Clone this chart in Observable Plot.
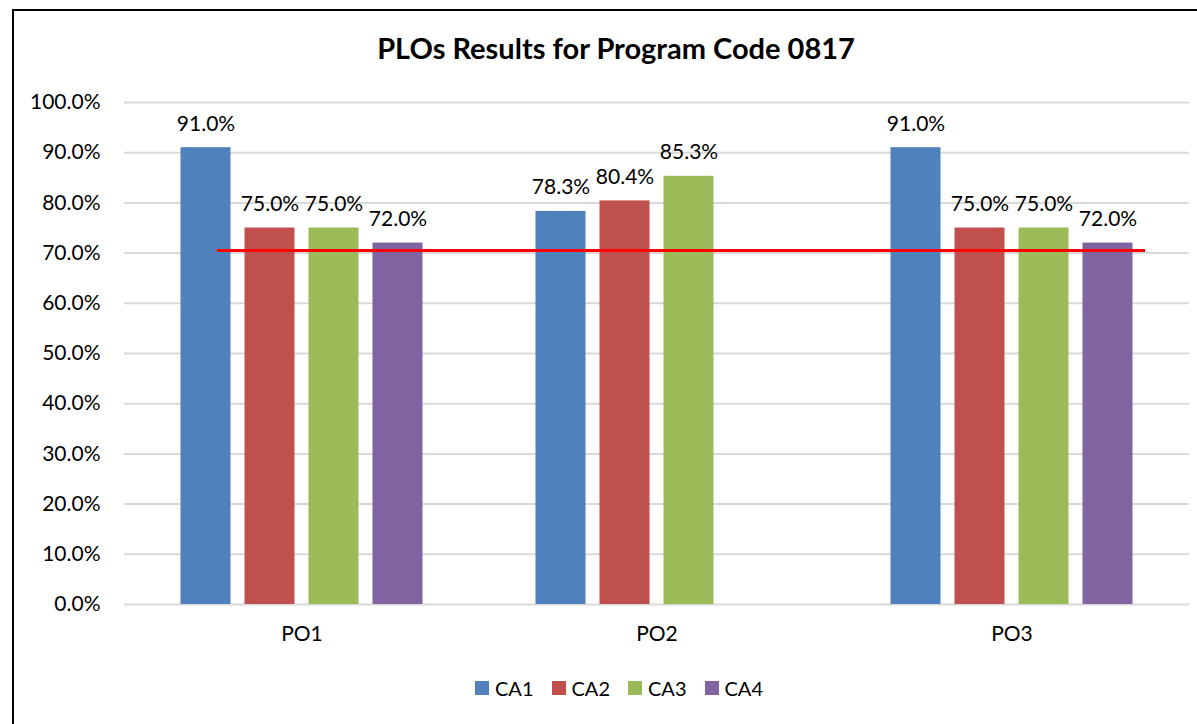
<!DOCTYPE html>
<html>
<head>
<meta charset="utf-8">
<script src="https://cdn.jsdelivr.net/npm/d3@7"></script>
<script src="https://cdn.jsdelivr.net/npm/@observablehq/plot@0.6"></script>
<style>
  html, body { margin: 0; padding: 0; background: #fff; overflow: hidden; }
  body { width: 1197px; height: 724px; position: relative; font-family: Lato, "Open Sans", sans-serif; }
  #frame { position: absolute; left: 12px; top: 9px; width: 1300px; height: 800px; border-left: 2px solid #000; border-top: 2px solid #000; }
  #title { position: absolute; left: 0; width: 1232px; top: 30px; text-align: center; font-weight: bold; font-size: 29px; line-height: 36px; color: #000; }
  #chart { position: absolute; left: 0; top: 80px; }
  #legend { position: absolute; left: 0; width: 1238px; top: 676px; display: flex; justify-content: center; gap: 18px; font-size: 20px; color: #000; }
  .item { display: flex; align-items: center; gap: 6px; }
  .sw { width: 14px; height: 14px; display: inline-block; }
</style>
</head>
<body>
<div id="frame"></div>
<div id="title">PLOs Results for Program Code 0817</div>
<div id="chart"></div>
<div id="legend"></div>
<script>
// Data
const groups = ["PO1", "PO2", "PO3"];
const series = ["CA1", "CA2", "CA3", "CA4"];
const ca1 = [91.0, 78.3, 91.0];
const ca2 = [75.0, 80.4, 75.0];
const ca3 = [75.0, 85.3, 75.0];
const ca4 = [72.0, null, 72.0];
const target = 70.6;
const yTicks = [0, 10, 20, 30, 40, 50, 60, 70, 80, 90, 100];
const colors = ["#4F81BD", "#C0504D", "#9BBB59", "#8064A2"];

const valuesBySeries = [ca1, ca2, ca3, ca4];
const rows = [];
groups.forEach((g, gi) => {
  series.forEach((s, si) => {
    const v = valuesBySeries[si][gi];
    if (v != null) rows.push({group: g, series: s, value: v});
  });
});

const fmt = d => d.toFixed(1) + "%";

// target line pieces, one per group facet
const targetRule = (g, opts) =>
  Plot.ruleY([{group: g, value: target}], {fx: "group", y: "value", stroke: "#ff0000", strokeWidth: 3, shapeRendering: "crispEdges", ...opts});

const chart = Plot.plot({
  width: 1197,
  height: 580,
  marginLeft: 124,
  marginRight: 8,
  marginTop: 22,
  marginBottom: 56,
  style: {fontFamily: "Lato, 'Open Sans', sans-serif", fontSize: "21px", color: "#000", background: "transparent"},
  fx: {domain: groups, padding: 0, label: null, round: false},
  x: {domain: series, paddingInner: 14 / 64, paddingOuter: 0.883, axis: null, round: false},
  y: {domain: [0, 100], label: null},
  color: {domain: series, range: colors},
  marks: [
    Plot.gridY(yTicks.filter(t => t > 0), {stroke: "#d9d9d9", strokeOpacity: 1, strokeWidth: 2}),
    Plot.ruleY([0], {stroke: "#d9d9d9", strokeWidth: 2}),
    Plot.axisY(yTicks, {tickSize: 0, tickPadding: 24, tickFormat: fmt, label: null, fill: "#000", fontSize: 21}),
    Plot.axisFx({anchor: "bottom", tickSize: 0, tickPadding: 22, label: null, fill: "#000", fontSize: 21}),
    Plot.barY(rows, {fx: "group", x: "series", y: "value", fill: "series"}),
    Plot.text(rows, {fx: "group", x: "series", y: "value", text: d => fmt(d.value), lineAnchor: "bottom", dy: -17, fill: "#000", fontSize: 21}),
    targetRule("PO1", {insetLeft: 93}),
    targetRule("PO2", {}),
    targetRule("PO3", {insetRight: 44})
  ]
});
document.getElementById("chart").appendChild(chart);

const legend = document.getElementById("legend");
series.forEach((s, i) => {
  const item = document.createElement("span");
  item.className = "item";
  const sw = document.createElement("span");
  sw.className = "sw";
  sw.style.background = colors[i];
  item.appendChild(sw);
  item.appendChild(document.createTextNode(s));
  legend.appendChild(item);
});
</script>
</body>
</html>
